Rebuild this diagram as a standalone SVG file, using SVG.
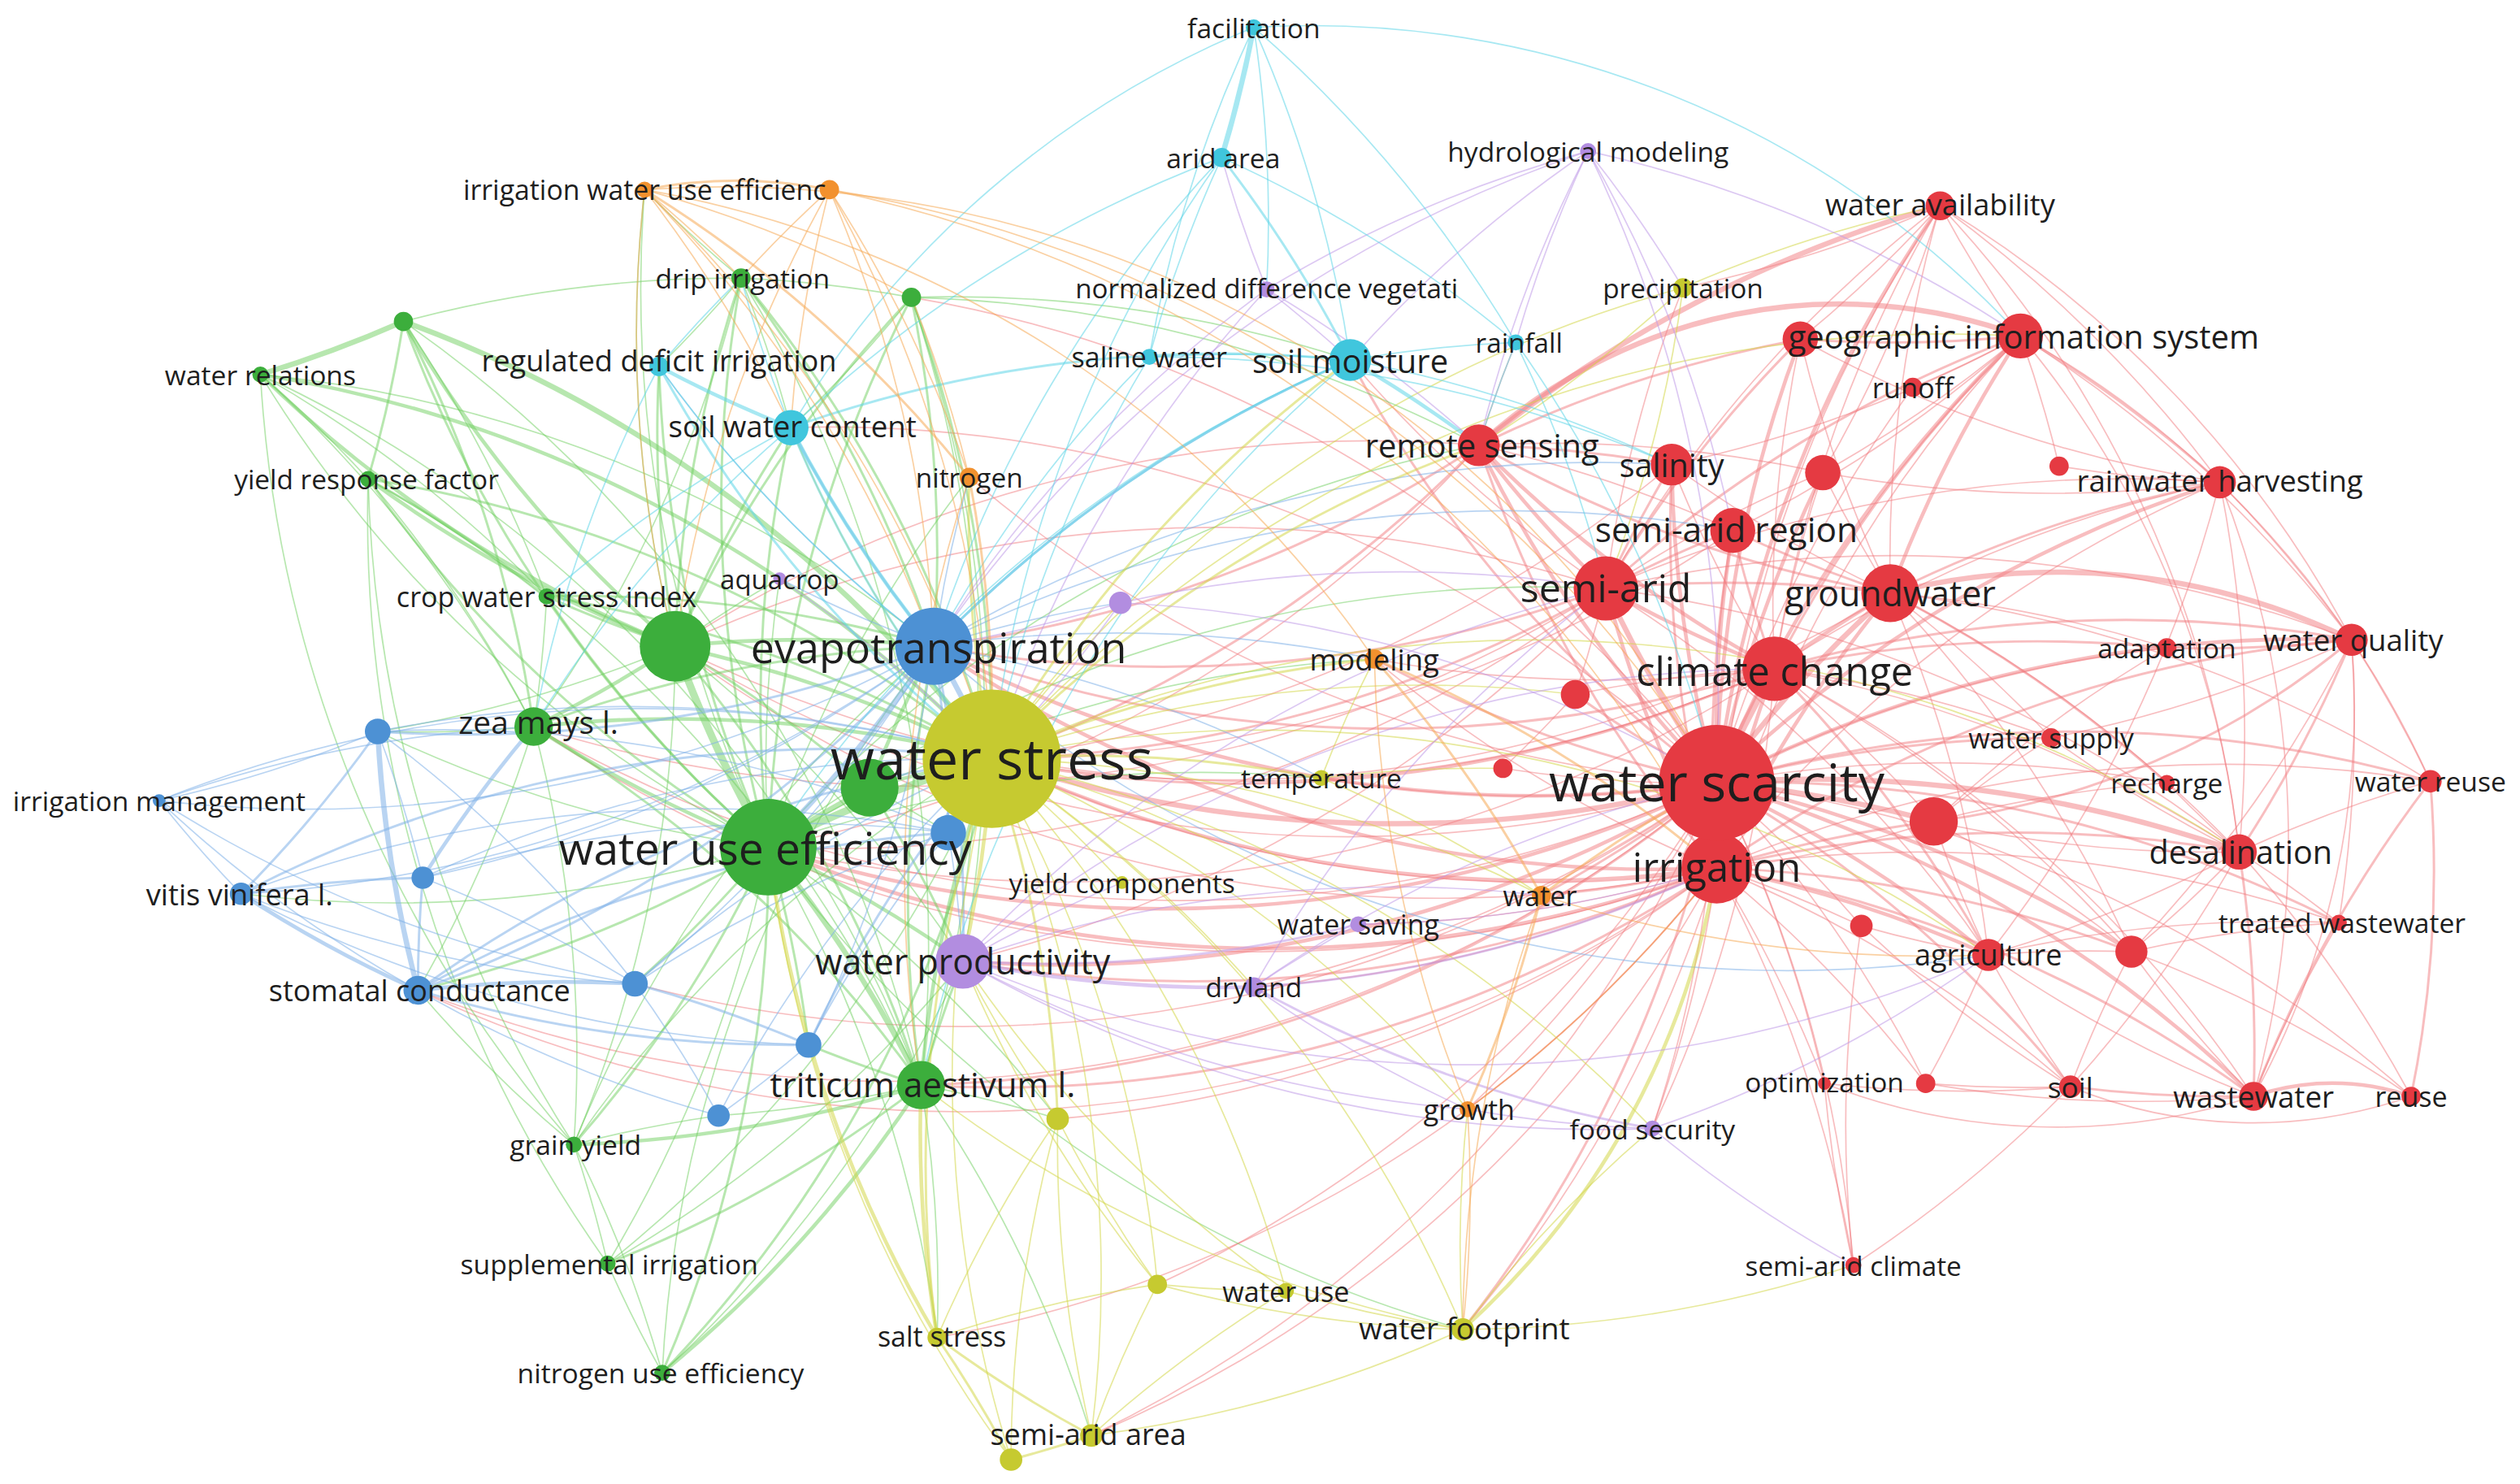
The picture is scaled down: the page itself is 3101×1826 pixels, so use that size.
<svg xmlns="http://www.w3.org/2000/svg" width="3101" height="1826" viewBox="0 0 3101 1826">
<style>
.e path{fill:none;stroke-linecap:round}
.R{stroke:#f27c80;stroke-opacity:.5}
.G{stroke:#6fcf5f;stroke-opacity:.5}
.B{stroke:#7fb0e8;stroke-opacity:.55}
.Y{stroke:#d3d74a;stroke-opacity:.55}
.P{stroke:#bf9be8;stroke-opacity:.55}
.C{stroke:#5fd6e8;stroke-opacity:.55}
.O{stroke:#f5a956;stroke-opacity:.55}
.w1{stroke-width:.85}.w2{stroke-width:1.5}.w3{stroke-width:2.3}.w4{stroke-width:3.3}.w5{stroke-width:4.6}
.nr{fill:#e53a42}.ng{fill:#3cae3c}.nb{fill:#4d91d4}.ny{fill:#c6ca30}.np{fill:#b28de0}.nc{fill:#40c6dd}.no{fill:#f2912e}
text{font-family:"Open Sans","Noto Sans","Liberation Sans",sans-serif;fill:#1e1e1e;text-anchor:middle;dominant-baseline:central}
</style>
<rect width="3101" height="1826" fill="#ffffff"/>
<g transform="scale(1.978)">
<g id="connectors" class="e">
<g class="R">
<path class="w5" d="M1068 487A800 800 0 0 1 1068 540"/>
<path class="w5" d="M1068 487A800 800 0 0 1 1104 416"/>
<path class="w4" d="M1068 487A800 800 0 0 1 999 366"/>
<path class="w4" d="M1068 487A800 800 0 0 1 1176 369"/>
<path class="w3" d="M1068 487A800 800 0 0 1 1078 330"/>
<path class="w3" d="M1068 487A800 800 0 0 1 920 277"/>
<path class="w3" d="M1068 487A800 800 0 0 1 1040 289"/>
<path class="w3" d="M1068 487A800 800 0 0 1 1257 209"/>
<path class="w3" d="M1068 487A800 800 0 0 1 1120 211"/>
<path class="w3" d="M1068 487A800 800 0 0 1 1207 128"/>
<path class="w1" d="M1068 487A800 800 0 0 1 1190 241"/>
<path class="w3" d="M1068 487A800 800 0 0 1 1381 300"/>
<path class="w3" d="M1068 487A800 800 0 0 1 1134 294"/>
<path class="w3" d="M1068 487A800 800 0 0 1 1463 398"/>
<path class="w1" d="M1068 487A800 800 0 0 1 1348 403"/>
<path class="w2" d="M1068 487A800 800 0 0 1 1276 459"/>
<path class="w1" d="M1068 487A800 800 0 0 1 1348 487"/>
<path class="w2" d="M1068 487A800 800 0 0 1 1512 486"/>
<path class="w4" d="M1068 487A800 800 0 0 1 1393 530"/>
<path class="w2" d="M1068 487A800 800 0 0 1 1455 574"/>
<path class="w3" d="M1068 487A800 800 0 0 1 1237 594"/>
<path class="w3" d="M1068 487A800 800 0 0 1 1326 592"/>
<path class="w4" d="M1068 487A800 800 0 0 1 1203 511"/>
<path class="w1" d="M1068 487A800 800 0 0 1 1158 576"/>
<path class="w2" d="M1068 487A800 800 0 0 1 980 432"/>
<path class="w1" d="M1068 487A800 800 0 0 1 935 478"/>
<path class="w1" d="M1068 487A800 800 0 0 1 1135 674"/>
<path class="w1" d="M1068 487A800 800 0 0 1 1198 674"/>
<path class="w2" d="M1068 487A800 800 0 0 1 1288 676"/>
<path class="w3" d="M1068 487A800 800 0 0 1 1402 682"/>
<path class="w1" d="M1068 487A800 800 0 0 1 1500 682"/>
<path class="w1" d="M1068 487A800 800 0 0 1 1153 787"/>
<path class="w4" d="M1068 487A800 800 0 0 1 617 472"/>
<path class="w3" d="M1068 487A800 800 0 0 1 478 527"/>
<path class="w3" d="M1068 487A800 800 0 0 1 581 402"/>
<path class="w3" d="M1068 487A800 800 0 0 1 599 598"/>
<path class="w2" d="M1068 487A800 800 0 0 1 855 410"/>
<path class="w2" d="M1068 487A800 800 0 0 1 959 557"/>
<path class="w1" d="M1068 487A800 800 0 0 1 1028 702"/>
<path class="w1" d="M1068 487A800 800 0 0 1 913 690"/>
<path class="w2" d="M1068 487A800 800 0 0 1 910 827"/>
<path class="w1" d="M1068 487A800 800 0 0 1 822 484"/>
<path class="w1" d="M1068 487A800 800 0 0 1 603 297"/>
<path class="w2" d="M1068 487A800 800 0 0 1 573 675"/>
<path class="w1" d="M1068 487A800 800 0 0 1 420 402"/>
<path class="w1" d="M1068 487A800 800 0 0 1 332 452"/>
<path class="w2" d="M1068 487A800 800 0 0 1 840 224"/>
<path class="w1" d="M1068 487A800 800 0 0 1 780 614"/>
<path class="w1" d="M1068 487A800 800 0 0 1 260 616"/>
<path class="w1" d="M1068 487A800 800 0 0 1 395 612"/>
<path class="w1" d="M1068 487A800 800 0 0 0 492 266"/>
<path class="w1" d="M1068 487A800 800 0 0 0 567 185"/>
<path class="w1" d="M1068 487A800 800 0 0 1 720 799"/>
<path class="w1" d="M1068 487A800 800 0 0 1 679 893"/>
<path class="w3" d="M1068 540A800 800 0 0 1 1104 416"/>
<path class="w3" d="M1068 540A800 800 0 0 1 999 366"/>
<path class="w3" d="M1068 540A800 800 0 0 1 1176 369"/>
<path class="w2" d="M1068 540A800 800 0 0 1 1078 330"/>
<path class="w2" d="M1068 540A800 800 0 0 1 920 277"/>
<path class="w2" d="M1068 540A800 800 0 0 1 1040 289"/>
<path class="w1" d="M1068 540A800 800 0 0 1 1257 209"/>
<path class="w1" d="M1068 540A800 800 0 0 1 1207 128"/>
<path class="w1" d="M1068 540A800 800 0 0 1 1381 300"/>
<path class="w2" d="M1068 540A800 800 0 0 1 1463 398"/>
<path class="w2" d="M1068 540A800 800 0 0 1 1393 530"/>
<path class="w3" d="M1068 540A800 800 0 0 1 1237 594"/>
<path class="w2" d="M1068 540A800 800 0 0 1 1326 592"/>
<path class="w2" d="M1068 540A800 800 0 0 1 1203 511"/>
<path class="w2" d="M1068 540A800 800 0 0 1 1402 682"/>
<path class="w1" d="M1068 540A800 800 0 0 1 1288 676"/>
<path class="w1" d="M1068 540A800 800 0 0 1 1455 574"/>
<path class="w1" d="M1068 540A800 800 0 0 1 1512 486"/>
<path class="w1" d="M1068 540A800 800 0 0 1 1135 674"/>
<path class="w1" d="M1068 540A800 800 0 0 1 1153 787"/>
<path class="w3" d="M1068 540A800 800 0 0 1 617 472"/>
<path class="w3" d="M1068 540A800 800 0 0 1 478 527"/>
<path class="w3" d="M1068 540A800 800 0 0 1 581 402"/>
<path class="w2" d="M1068 540A800 800 0 0 1 599 598"/>
<path class="w2" d="M1068 540A800 800 0 0 1 959 557"/>
<path class="w1" d="M1068 540A800 800 0 0 1 1028 702"/>
<path class="w1" d="M1068 540A800 800 0 0 1 780 614"/>
<path class="w2" d="M1068 540A800 800 0 0 1 573 675"/>
<path class="w1" d="M1068 540A800 800 0 0 1 910 827"/>
<path class="w1" d="M1068 540A800 800 0 0 1 913 690"/>
<path class="w1" d="M1068 540A800 800 0 0 1 1158 576"/>
<path class="w1" d="M1068 540A800 800 0 0 1 1198 674"/>
<path class="w1" d="M1068 540A800 800 0 0 1 420 402"/>
<path class="w1" d="M1068 540A800 800 0 0 1 332 452"/>
<path class="w1" d="M1068 540A800 800 0 0 1 845 575"/>
<path class="w1" d="M1068 540A800 800 0 0 1 855 410"/>
<path class="w1" d="M1068 540A800 800 0 0 1 583 832"/>
<path class="w1" d="M1068 540A800 800 0 0 1 658 696"/>
<path class="w1" d="M1068 540A800 800 0 0 1 679 893"/>
<path class="w1" d="M1068 540A800 800 0 0 1 260 616"/>
<path class="w3" d="M1104 416A800 800 0 0 1 999 366"/>
<path class="w3" d="M1104 416A800 800 0 0 1 1176 369"/>
<path class="w2" d="M1104 416A800 800 0 0 1 1078 330"/>
<path class="w3" d="M1104 416A800 800 0 0 1 920 277"/>
<path class="w1" d="M1104 416A800 800 0 0 1 1040 289"/>
<path class="w2" d="M1104 416A800 800 0 0 1 1257 209"/>
<path class="w1" d="M1104 416A800 800 0 0 1 1207 128"/>
<path class="w1" d="M1104 416A800 800 0 0 1 1381 300"/>
<path class="w2" d="M1104 416A800 800 0 0 1 1463 398"/>
<path class="w2" d="M1104 416A800 800 0 0 1 1348 403"/>
<path class="w1" d="M1104 416A800 800 0 0 1 1276 459"/>
<path class="w1" d="M1104 416A800 800 0 0 1 1393 530"/>
<path class="w2" d="M1104 416A800 800 0 0 1 1237 594"/>
<path class="w1" d="M1104 416A800 800 0 0 1 1326 592"/>
<path class="w1" d="M1104 416A800 800 0 0 1 1203 511"/>
<path class="w2" d="M1104 416A800 800 0 0 1 617 472"/>
<path class="w2" d="M1104 416A800 800 0 0 1 581 402"/>
<path class="w1" d="M1104 416A800 800 0 0 1 1028 702"/>
<path class="w1" d="M1104 416A800 800 0 0 1 855 410"/>
<path class="w1" d="M1104 416A800 800 0 0 1 1134 294"/>
<path class="w1" d="M1104 416A800 800 0 0 1 1120 211"/>
<path class="w1" d="M1104 416A800 800 0 0 1 1402 682"/>
<path class="w1" d="M1104 416A800 800 0 0 1 822 484"/>
<path class="w1" d="M1104 416A800 800 0 0 1 478 527"/>
<path class="w1" d="M1104 416A800 800 0 0 1 420 402"/>
<path class="w2" d="M999 366A800 800 0 0 1 1176 369"/>
<path class="w2" d="M999 366A800 800 0 0 1 1078 330"/>
<path class="w3" d="M999 366A800 800 0 0 1 920 277"/>
<path class="w2" d="M999 366A800 800 0 0 1 1040 289"/>
<path class="w2" d="M999 366A800 800 0 0 1 1257 209"/>
<path class="w2" d="M999 366A800 800 0 0 1 1120 211"/>
<path class="w1" d="M999 366A800 800 0 0 1 1381 300"/>
<path class="w1" d="M999 366A800 800 0 0 1 1463 398"/>
<path class="w1" d="M999 366A800 800 0 0 1 1393 530"/>
<path class="w1" d="M999 366A800 800 0 0 1 1237 594"/>
<path class="w2" d="M999 366A800 800 0 0 1 617 472"/>
<path class="w2" d="M999 366A800 800 0 0 1 581 402"/>
<path class="w1" d="M999 366A800 800 0 0 1 478 527"/>
<path class="w1" d="M999 366A800 800 0 0 1 840 224"/>
<path class="w1" d="M999 366A800 800 0 0 1 1134 294"/>
<path class="w1" d="M999 366A800 800 0 0 1 980 432"/>
<path class="w1" d="M999 366A800 800 0 0 1 599 598"/>
<path class="w1" d="M999 366A800 800 0 0 1 1207 128"/>
<path class="w1" d="M999 366A800 800 0 0 1 1047 179"/>
<path class="w1" d="M999 366A800 800 0 0 0 420 402"/>
<path class="w1" d="M999 366A800 800 0 0 1 332 452"/>
<path class="w2" d="M1176 369A800 800 0 0 1 1078 330"/>
<path class="w2" d="M1176 369A800 800 0 0 1 920 277"/>
<path class="w1" d="M1176 369A800 800 0 0 1 1040 289"/>
<path class="w3" d="M1176 369A800 800 0 0 1 1257 209"/>
<path class="w1" d="M1176 369A800 800 0 0 1 1120 211"/>
<path class="w2" d="M1176 369A800 800 0 0 1 1381 300"/>
<path class="w4" d="M1176 369A420 420 0 0 1 1463 398"/>
<path class="w2" d="M1176 369A800 800 0 0 1 1348 487"/>
<path class="w1" d="M1176 369A800 800 0 0 1 1393 530"/>
<path class="w1" d="M1176 369A800 800 0 0 1 1237 594"/>
<path class="w1" d="M1176 369A800 800 0 0 1 1207 128"/>
<path class="w1" d="M1176 369A800 800 0 0 1 1134 294"/>
<path class="w1" d="M1176 369A800 800 0 0 1 1276 459"/>
<path class="w1" d="M1176 369A800 800 0 0 1 1348 403"/>
<path class="w1" d="M1176 369A800 800 0 0 1 1326 592"/>
<path class="w1" d="M1176 369A800 800 0 0 1 1512 486"/>
<path class="w1" d="M1176 369A800 800 0 0 1 617 472"/>
<path class="w4" d="M920 277A330 330 0 0 1 1257 209"/>
<path class="w2" d="M920 277A800 800 0 0 1 1040 289"/>
<path class="w2" d="M920 277A800 800 0 0 1 1120 211"/>
<path class="w2" d="M920 277A800 800 0 0 1 581 402"/>
<path class="w4" d="M920 277A800 800 0 0 1 1207 128"/>
<path class="w1" d="M920 277A800 800 0 0 1 943 213"/>
<path class="w1" d="M920 277A800 800 0 0 1 1078 330"/>
<path class="w1" d="M920 277A800 800 0 0 1 1134 294"/>
<path class="w2" d="M920 277A800 800 0 0 1 617 472"/>
<path class="w1" d="M920 277A800 800 0 0 1 478 527"/>
<path class="w1" d="M920 277A800 800 0 0 0 420 402"/>
<path class="w1" d="M1040 289A800 800 0 0 1 617 472"/>
<path class="w1" d="M1078 330A800 800 0 0 1 617 472"/>
<path class="w1" d="M1257 209A800 800 0 0 1 1207 128"/>
<path class="w2" d="M1257 209A800 800 0 0 1 1120 211"/>
<path class="w1" d="M1257 209A800 800 0 0 1 1190 241"/>
<path class="w2" d="M1257 209A800 800 0 0 1 1381 300"/>
<path class="w1" d="M1257 209A800 800 0 0 1 1134 294"/>
<path class="w1" d="M1257 209A800 800 0 0 1 1281 290"/>
<path class="w1" d="M1257 209A800 800 0 0 1 1463 398"/>
<path class="w1" d="M1257 209A800 800 0 0 1 1040 289"/>
<path class="w1" d="M1257 209A600 600 0 0 1 1393 530"/>
<path class="w1" d="M1257 209A600 600 0 0 1 1512 486"/>
<path class="w1" d="M1257 209A800 800 0 0 1 1078 330"/>
<path class="w1" d="M1207 128A800 800 0 0 1 1381 300"/>
<path class="w1" d="M1207 128A800 800 0 0 1 1120 211"/>
<path class="w1" d="M1207 128A700 700 0 0 1 1463 398"/>
<path class="w1" d="M1207 128A700 700 0 0 1 1393 530"/>
<path class="w1" d="M1207 128A800 800 0 0 1 1134 294"/>
<path class="w1" d="M1207 128A800 800 0 0 1 1047 179"/>
<path class="w1" d="M1381 300A800 800 0 0 1 1463 398"/>
<path class="w1" d="M1381 300A800 800 0 0 1 1281 290"/>
<path class="w1" d="M1381 300A800 800 0 0 1 1393 530"/>
<path class="w1" d="M1381 300A800 800 0 0 1 1134 294"/>
<path class="w1" d="M1381 300A600 600 0 0 1 1402 682"/>
<path class="w1" d="M1381 300A800 800 0 0 1 1237 594"/>
<path class="w1" d="M1381 300A800 800 0 0 1 1120 211"/>
<path class="w2" d="M1463 398A800 800 0 0 1 1348 403"/>
<path class="w1" d="M1463 398A800 800 0 0 1 1512 486"/>
<path class="w2" d="M1463 398A800 800 0 0 1 1393 530"/>
<path class="w1" d="M1463 398A500 500 0 0 1 1402 682"/>
<path class="w1" d="M1463 398A800 800 0 0 1 1455 574"/>
<path class="w2" d="M1463 398A500 500 0 0 1 1203 511"/>
<path class="w1" d="M1463 398A800 800 0 0 1 1276 459"/>
<path class="w1" d="M1463 398A800 800 0 0 1 1326 592"/>
<path class="w2" d="M1393 530A800 800 0 0 1 1402 682"/>
<path class="w1" d="M1393 530A800 800 0 0 1 1455 574"/>
<path class="w1" d="M1393 530A800 800 0 0 1 1512 486"/>
<path class="w1" d="M1393 530A800 800 0 0 1 1500 682"/>
<path class="w1" d="M1393 530A800 800 0 0 1 1288 676"/>
<path class="w1" d="M1393 530A800 800 0 0 1 1237 594"/>
<path class="w1" d="M1393 530A800 800 0 0 1 1326 592"/>
<path class="w1" d="M1393 530A800 800 0 0 1 1348 487"/>
<path class="w1" d="M1393 530A800 800 0 0 1 1203 511"/>
<path class="w1" d="M1393 530A800 800 0 0 1 1276 459"/>
<path class="w3" d="M1402 682A150 150 0 0 1 1500 682"/>
<path class="w2" d="M1402 682A800 800 0 0 1 1288 676"/>
<path class="w2" d="M1402 682A800 800 0 0 1 1512 486"/>
<path class="w1" d="M1402 682A800 800 0 0 1 1455 574"/>
<path class="w1" d="M1402 682A800 800 0 0 1 1237 594"/>
<path class="w1" d="M1402 682A800 800 0 0 1 1326 592"/>
<path class="w1" d="M1402 682A400 400 0 0 1 1135 674"/>
<path class="w1" d="M1402 682A800 800 0 0 1 1198 674"/>
<path class="w1" d="M1288 676A800 800 0 0 1 1237 594"/>
<path class="w1" d="M1288 676A800 800 0 0 1 1198 674"/>
<path class="w1" d="M1288 676A800 800 0 0 1 1135 674"/>
<path class="w1" d="M1288 676A800 800 0 0 1 1326 592"/>
<path class="w1" d="M1288 676A800 800 0 0 1 1153 787"/>
<path class="w1" d="M1288 676A800 800 0 0 1 1158 576"/>
<path class="w1" d="M1288 676A300 300 0 0 0 1500 682"/>
<path class="w1" d="M1237 594A800 800 0 0 1 1326 592"/>
<path class="w1" d="M1237 594A800 800 0 0 1 1158 576"/>
<path class="w1" d="M1237 594A800 800 0 0 1 1203 511"/>
<path class="w1" d="M1237 594A800 800 0 0 1 1198 674"/>
<path class="w1" d="M1237 594A800 800 0 0 1 1455 574"/>
<path class="w1" d="M1203 511A800 800 0 0 1 1326 592"/>
<path class="w1" d="M1203 511A800 800 0 0 1 1276 459"/>
<path class="w1" d="M1203 511A800 800 0 0 1 1348 487"/>
<path class="w1" d="M1203 511A800 800 0 0 1 1348 403"/>
<path class="w1" d="M1203 511A800 800 0 0 1 617 472"/>
<path class="w1" d="M1326 592A800 800 0 0 1 1455 574"/>
<path class="w1" d="M1326 592A800 800 0 0 1 1500 682"/>
<path class="w1" d="M1153 787A800 800 0 0 1 1135 674"/>
<path class="w1" d="M1153 787A800 800 0 0 1 1158 576"/>
<path class="w1" d="M980 432A800 800 0 0 1 935 478"/>
<path class="w1" d="M980 432A800 800 0 0 1 1104 416"/>
<path class="w2" d="M1512 486A700 700 0 0 1 1500 682"/>
</g>
<g class="G">
<path class="w5" d="M478 527A800 800 0 0 1 420 402"/>
<path class="w4" d="M478 527A800 800 0 0 1 541 490"/>
<path class="w4" d="M478 527A800 800 0 0 1 573 675"/>
<path class="w3" d="M478 527A800 800 0 0 1 332 452"/>
<path class="w2" d="M478 527A800 800 0 0 1 340 371"/>
<path class="w2" d="M478 527A800 800 0 0 1 229 298"/>
<path class="w1" d="M478 527A800 800 0 0 1 162 233"/>
<path class="w2" d="M478 527A800 800 0 0 1 251 200"/>
<path class="w2" d="M478 527A800 800 0 0 1 461 173"/>
<path class="w2" d="M478 527A800 800 0 0 1 567 185"/>
<path class="w2" d="M478 527A800 800 0 0 1 357 712"/>
<path class="w1" d="M478 527A800 800 0 0 1 378 786"/>
<path class="w2" d="M478 527A800 800 0 0 1 412 854"/>
<path class="w2" d="M478 527A800 800 0 0 1 410 228"/>
<path class="w2" d="M478 527A800 800 0 0 1 492 266"/>
<path class="w3" d="M478 527A800 800 0 0 1 599 598"/>
<path class="w2" d="M478 527A800 800 0 0 1 260 616"/>
<path class="w2" d="M478 527A800 800 0 0 1 395 612"/>
<path class="w2" d="M478 527A800 800 0 0 1 503 650"/>
<path class="w1" d="M478 527A800 800 0 0 1 150 556"/>
<path class="w1" d="M478 527A800 800 0 0 1 401 118"/>
<path class="w1" d="M478 527A800 800 0 0 1 603 297"/>
<path class="w5" d="M478 527A800 800 0 0 1 617 472"/>
<path class="w1" d="M478 527A800 800 0 0 1 658 696"/>
<path class="w1" d="M478 527A800 800 0 0 1 583 832"/>
<path class="w1" d="M478 527A800 800 0 0 1 235 455"/>
<path class="w1" d="M478 527A800 800 0 0 1 485 360"/>
<path class="w1" d="M478 527A800 800 0 0 1 855 410"/>
<path class="w1" d="M478 527A800 800 0 0 1 822 484"/>
<path class="w1" d="M478 527A800 800 0 0 1 920 277"/>
<path class="w1" d="M478 527A800 800 0 0 1 999 366"/>
<path class="w1" d="M478 527A800 800 0 0 0 910 827"/>
<path class="w3" d="M420 402A800 800 0 0 1 332 452"/>
<path class="w2" d="M420 402A800 800 0 0 1 340 371"/>
<path class="w3" d="M420 402A800 800 0 0 1 229 298"/>
<path class="w3" d="M420 402A800 800 0 0 1 162 233"/>
<path class="w3" d="M420 402A800 800 0 0 1 251 200"/>
<path class="w2" d="M420 402A800 800 0 0 1 461 173"/>
<path class="w2" d="M420 402A800 800 0 0 1 567 185"/>
<path class="w3" d="M420 402A800 800 0 0 1 581 402"/>
<path class="w3" d="M420 402A800 800 0 0 1 617 472"/>
<path class="w2" d="M420 402A800 800 0 0 1 573 675"/>
<path class="w2" d="M420 402A800 800 0 0 1 492 266"/>
<path class="w2" d="M420 402A800 800 0 0 1 410 228"/>
<path class="w2" d="M420 402A800 800 0 0 1 541 490"/>
<path class="w1" d="M420 402A800 800 0 0 1 599 598"/>
<path class="w1" d="M420 402A800 800 0 0 1 357 712"/>
<path class="w1" d="M420 402A800 800 0 0 1 235 455"/>
<path class="w1" d="M420 402A800 800 0 0 1 401 118"/>
<path class="w1" d="M420 402A800 800 0 0 1 485 360"/>
<path class="w4" d="M251 200A800 800 0 0 1 162 233"/>
<path class="w2" d="M251 200A800 800 0 0 1 229 298"/>
<path class="w2" d="M251 200A800 800 0 0 1 332 452"/>
<path class="w1" d="M251 200A800 800 0 0 1 573 675"/>
<path class="w1" d="M251 200A800 800 0 0 1 340 371"/>
<path class="w1" d="M251 200A800 800 0 0 1 461 173"/>
<path class="w4" d="M251 200A800 800 0 0 1 617 472"/>
<path class="w1" d="M162 233A800 800 0 0 1 229 298"/>
<path class="w1" d="M162 233A800 800 0 0 1 332 452"/>
<path class="w1" d="M162 233A800 800 0 0 1 340 371"/>
<path class="w3" d="M162 233A800 800 0 0 1 617 472"/>
<path class="w1" d="M162 233A800 800 0 0 1 581 402"/>
<path class="w1" d="M162 233A800 800 0 0 0 357 712"/>
<path class="w1" d="M162 233A800 800 0 0 1 573 675"/>
<path class="w1" d="M229 298A800 800 0 0 1 332 452"/>
<path class="w2" d="M229 298A800 800 0 0 1 340 371"/>
<path class="w1" d="M229 298A800 800 0 0 1 573 675"/>
<path class="w2" d="M229 298A800 800 0 0 1 617 472"/>
<path class="w1" d="M229 298A800 800 0 0 0 357 712"/>
<path class="w1" d="M229 298A800 800 0 0 0 378 786"/>
<path class="w1" d="M340 371A800 800 0 0 1 332 452"/>
<path class="w2" d="M340 371A800 800 0 0 1 581 402"/>
<path class="w2" d="M340 371A800 800 0 0 1 617 472"/>
<path class="w1" d="M461 173A800 800 0 0 1 567 185"/>
<path class="w1" d="M461 173A800 800 0 0 1 401 118"/>
<path class="w1" d="M461 173A800 800 0 0 1 492 266"/>
<path class="w2" d="M461 173A800 800 0 0 1 617 472"/>
<path class="w2" d="M461 173A800 800 0 0 1 581 402"/>
<path class="w1" d="M461 173A800 800 0 0 1 573 675"/>
<path class="w1" d="M461 173A800 800 0 0 1 410 228"/>
<path class="w1" d="M461 173A800 800 0 0 1 332 452"/>
<path class="w2" d="M567 185A800 800 0 0 1 617 472"/>
<path class="w2" d="M567 185A800 800 0 0 1 581 402"/>
<path class="w1" d="M567 185A800 800 0 0 1 492 266"/>
<path class="w1" d="M567 185A800 800 0 0 1 573 675"/>
<path class="w1" d="M567 185A800 800 0 0 1 599 598"/>
<path class="w1" d="M567 185A800 800 0 0 1 840 224"/>
<path class="w1" d="M567 185A800 800 0 0 1 920 277"/>
<path class="w2" d="M332 452A800 800 0 0 1 581 402"/>
<path class="w3" d="M332 452A800 800 0 0 1 617 472"/>
<path class="w2" d="M332 452A800 800 0 0 1 573 675"/>
<path class="w1" d="M332 452A800 800 0 0 1 357 712"/>
<path class="w1" d="M332 452A800 800 0 0 1 235 455"/>
<path class="w1" d="M332 452A800 800 0 0 1 260 616"/>
<path class="w3" d="M573 675A800 800 0 0 1 357 712"/>
<path class="w2" d="M573 675A800 800 0 0 1 378 786"/>
<path class="w3" d="M573 675A800 800 0 0 1 412 854"/>
<path class="w3" d="M573 675A800 800 0 0 1 617 472"/>
<path class="w2" d="M573 675A800 800 0 0 1 599 598"/>
<path class="w2" d="M573 675A800 800 0 0 1 503 650"/>
<path class="w1" d="M573 675A800 800 0 0 1 447 694"/>
<path class="w1" d="M573 675A800 800 0 0 1 658 696"/>
<path class="w2" d="M573 675A800 800 0 0 1 581 402"/>
<path class="w1" d="M573 675A800 800 0 0 1 583 832"/>
<path class="w1" d="M573 675A800 800 0 0 1 679 893"/>
<path class="w1" d="M357 712A800 800 0 0 1 378 786"/>
<path class="w1" d="M357 712A800 800 0 0 1 412 854"/>
<path class="w1" d="M357 712A800 800 0 0 1 447 694"/>
<path class="w1" d="M357 712A800 800 0 0 1 617 472"/>
<path class="w1" d="M357 712A800 800 0 0 1 581 402"/>
<path class="w1" d="M357 712A800 800 0 0 1 260 616"/>
<path class="w1" d="M412 854A800 800 0 0 1 378 786"/>
<path class="w2" d="M412 854A800 800 0 0 0 617 472"/>
<path class="w1" d="M412 854A800 800 0 0 1 581 402"/>
<path class="w1" d="M412 854A800 800 0 0 0 599 598"/>
<path class="w1" d="M378 786A800 800 0 0 0 617 472"/>
<path class="w1" d="M378 786A800 800 0 0 0 599 598"/>
<path class="w3" d="M541 490A800 800 0 0 1 617 472"/>
<path class="w3" d="M541 490A800 800 0 0 1 581 402"/>
<path class="w2" d="M541 490A800 800 0 0 1 599 598"/>
<path class="w1" d="M541 490A800 800 0 0 1 590 518"/>
</g>
<g class="B">
<path class="w4" d="M581 402A800 800 0 0 1 617 472"/>
<path class="w4" d="M581 402A800 800 0 0 1 478 527"/>
<path class="w2" d="M581 402A800 800 0 0 1 590 518"/>
<path class="w2" d="M581 402A800 800 0 0 1 260 616"/>
<path class="w1" d="M581 402A800 800 0 0 1 99 498"/>
<path class="w1" d="M581 402A800 800 0 0 1 150 556"/>
<path class="w2" d="M581 402A800 800 0 0 1 235 455"/>
<path class="w2" d="M581 402A800 800 0 0 1 492 266"/>
<path class="w2" d="M581 402A800 800 0 0 1 840 224"/>
<path class="w1" d="M581 402A800 800 0 0 1 395 612"/>
<path class="w1" d="M581 402A800 800 0 0 1 503 650"/>
<path class="w2" d="M581 402A800 800 0 0 1 599 598"/>
<path class="w1" d="M581 402A800 800 0 0 1 410 228"/>
<path class="w1" d="M581 402A800 800 0 0 1 603 297"/>
<path class="w1" d="M581 402A800 800 0 0 1 697 375"/>
<path class="w1" d="M581 402A800 800 0 0 1 822 484"/>
<path class="w1" d="M581 402A800 800 0 0 1 855 410"/>
<path class="w1" d="M581 402A800 800 0 0 1 485 360"/>
<path class="w1" d="M581 402A800 800 0 0 1 263 546"/>
<path class="w1" d="M581 402A800 800 0 0 1 1040 289"/>
<path class="w1" d="M581 402A800 800 0 0 1 1078 330"/>
<path class="w1" d="M581 402A800 800 0 0 0 1237 594"/>
<path class="w4" d="M235 455A800 800 0 0 0 260 616"/>
<path class="w2" d="M235 455A800 800 0 0 1 150 556"/>
<path class="w1" d="M235 455A800 800 0 0 1 99 498"/>
<path class="w1" d="M235 455A800 800 0 0 1 263 546"/>
<path class="w1" d="M235 455A800 800 0 0 1 395 612"/>
<path class="w1" d="M235 455A800 800 0 0 1 617 472"/>
<path class="w1" d="M235 455A800 800 0 0 1 590 518"/>
<path class="w3" d="M150 556A800 800 0 0 0 260 616"/>
<path class="w1" d="M150 556A800 800 0 0 1 99 498"/>
<path class="w2" d="M150 556A800 800 0 0 1 263 546"/>
<path class="w1" d="M150 556A800 800 0 0 0 395 612"/>
<path class="w2" d="M150 556A800 800 0 0 1 617 472"/>
<path class="w1" d="M150 556A800 800 0 0 1 590 518"/>
<path class="w1" d="M150 556A800 800 0 0 0 503 650"/>
<path class="w2" d="M260 616A800 800 0 0 1 263 546"/>
<path class="w3" d="M260 616A800 800 0 0 1 395 612"/>
<path class="w2" d="M260 616A800 800 0 0 0 503 650"/>
<path class="w1" d="M260 616A800 800 0 0 0 447 694"/>
<path class="w2" d="M260 616A800 800 0 0 1 617 472"/>
<path class="w2" d="M260 616A800 800 0 0 1 590 518"/>
<path class="w1" d="M263 546A800 800 0 0 1 395 612"/>
<path class="w1" d="M263 546A800 800 0 0 1 617 472"/>
<path class="w1" d="M263 546A800 800 0 0 1 590 518"/>
<path class="w3" d="M263 546A800 800 0 0 1 332 452"/>
<path class="w2" d="M395 612A800 800 0 0 1 503 650"/>
<path class="w1" d="M395 612A800 800 0 0 1 447 694"/>
<path class="w1" d="M395 612A800 800 0 0 1 617 472"/>
<path class="w1" d="M395 612A800 800 0 0 1 590 518"/>
<path class="w1" d="M503 650A800 800 0 0 1 447 694"/>
<path class="w2" d="M503 650A800 800 0 0 1 617 472"/>
<path class="w1" d="M503 650A800 800 0 0 1 590 518"/>
<path class="w1" d="M447 694A800 800 0 0 1 617 472"/>
<path class="w1" d="M99 498A800 800 0 0 0 260 616"/>
<path class="w1" d="M99 498A800 800 0 0 1 332 452"/>
<path class="w1" d="M99 498A800 800 0 0 0 395 612"/>
<path class="w1" d="M99 498A800 800 0 0 1 617 472"/>
<path class="w2" d="M590 518A800 800 0 0 1 617 472"/>
<path class="w1" d="M590 518A800 800 0 0 1 599 598"/>
</g>
<g class="Y">
<path class="w3" d="M617 472A800 800 0 0 1 599 598"/>
<path class="w2" d="M617 472A800 800 0 0 1 822 484"/>
<path class="w1" d="M617 472A800 800 0 0 1 698 549"/>
<path class="w2" d="M617 472A800 800 0 0 1 658 696"/>
<path class="w1" d="M617 472A800 800 0 0 1 720 799"/>
<path class="w1" d="M617 472A800 800 0 0 1 800 803"/>
<path class="w1" d="M617 472A800 800 0 0 1 910 827"/>
<path class="w2" d="M617 472A800 800 0 0 0 583 832"/>
<path class="w1" d="M617 472A800 800 0 0 1 679 893"/>
<path class="w1" d="M617 472A800 800 0 0 0 629 908"/>
<path class="w1" d="M617 472A800 800 0 0 1 1047 179"/>
<path class="w2" d="M617 472A800 800 0 0 1 855 410"/>
<path class="w2" d="M617 472A800 800 0 0 1 920 277"/>
<path class="w2" d="M617 472A800 800 0 0 1 840 224"/>
<path class="w1" d="M617 472A800 800 0 0 1 492 266"/>
<path class="w2" d="M617 472A800 800 0 0 1 603 297"/>
<path class="w1" d="M617 472A800 800 0 0 1 780 614"/>
<path class="w1" d="M617 472A800 800 0 0 1 845 575"/>
<path class="w1" d="M617 472A800 800 0 0 1 913 690"/>
<path class="w1" d="M617 472A800 800 0 0 1 980 432"/>
<path class="w1" d="M617 472A800 800 0 0 1 697 375"/>
<path class="w1" d="M617 472A800 800 0 0 1 1028 702"/>
<path class="w1" d="M617 472A800 800 0 0 1 959 557"/>
<path class="w1" d="M617 472A800 800 0 0 1 1257 209"/>
<path class="w1" d="M617 472A800 800 0 0 1 1237 594"/>
<path class="w1" d="M617 472A800 800 0 0 1 1393 530"/>
<path class="w2" d="M583 832A800 800 0 0 0 679 893"/>
<path class="w2" d="M583 832A800 800 0 0 1 629 908"/>
<path class="w3" d="M583 832A800 800 0 0 1 478 527"/>
<path class="w3" d="M583 832A800 800 0 0 1 573 675"/>
<path class="w1" d="M583 832A800 800 0 0 1 658 696"/>
<path class="w1" d="M583 832A800 800 0 0 1 720 799"/>
<path class="w2" d="M679 893A800 800 0 0 1 629 908"/>
<path class="w1" d="M679 893A800 800 0 0 1 720 799"/>
<path class="w1" d="M679 893A800 800 0 0 0 910 827"/>
<path class="w1" d="M679 893A800 800 0 0 1 658 696"/>
<path class="w1" d="M679 893A800 800 0 0 1 800 803"/>
<path class="w1" d="M629 908A800 800 0 0 1 658 696"/>
<path class="w1" d="M629 908A800 800 0 0 1 478 527"/>
<path class="w1" d="M720 799A800 800 0 0 0 800 803"/>
<path class="w1" d="M720 799A800 800 0 0 0 910 827"/>
<path class="w1" d="M720 799A800 800 0 0 1 658 696"/>
<path class="w1" d="M720 799A800 800 0 0 1 599 598"/>
<path class="w1" d="M800 803A800 800 0 0 0 910 827"/>
<path class="w1" d="M800 803A800 800 0 0 1 599 598"/>
<path class="w1" d="M910 827A800 800 0 0 0 1153 787"/>
<path class="w1" d="M910 827A800 800 0 0 1 913 690"/>
<path class="w1" d="M910 827A800 800 0 0 1 573 675"/>
<path class="w1" d="M910 827A800 800 0 0 1 1028 702"/>
<path class="w3" d="M910 827A500 500 0 0 0 1068 540"/>
<path class="w1" d="M658 696A800 800 0 0 1 599 598"/>
<path class="w1" d="M822 484A800 800 0 0 1 855 410"/>
<path class="w1" d="M822 484A800 800 0 0 1 959 557"/>
<path class="w1" d="M822 484A800 800 0 0 1 935 478"/>
<path class="w1" d="M1047 179A800 800 0 0 1 920 277"/>
<path class="w1" d="M1047 179A800 800 0 0 1 1207 128"/>
<path class="w1" d="M1047 179A800 800 0 0 1 999 366"/>
</g>
<g class="P">
<path class="w3" d="M599 598A800 800 0 0 0 780 614"/>
<path class="w2" d="M599 598A800 800 0 0 0 845 575"/>
<path class="w1" d="M599 598A800 800 0 0 0 1028 702"/>
<path class="w1" d="M599 598A800 800 0 0 1 698 549"/>
<path class="w1" d="M599 598A800 800 0 0 0 913 690"/>
<path class="w1" d="M599 598A800 800 0 0 1 959 557"/>
<path class="w1" d="M599 598A800 800 0 0 1 1104 416"/>
<path class="w1" d="M599 598A800 800 0 0 1 999 366"/>
<path class="w1" d="M599 598A800 800 0 0 0 1237 594"/>
<path class="w1" d="M780 614A800 800 0 0 1 845 575"/>
<path class="w2" d="M780 614A800 800 0 0 0 1028 702"/>
<path class="w2" d="M780 614A800 800 0 0 0 1068 540"/>
<path class="w1" d="M780 614A800 800 0 0 1 1068 487"/>
<path class="w1" d="M780 614A800 800 0 0 0 913 690"/>
<path class="w1" d="M780 614A800 800 0 0 1 999 366"/>
<path class="w1" d="M697 375A800 800 0 0 1 617 472"/>
<path class="w1" d="M697 375A800 800 0 0 1 581 402"/>
<path class="w1" d="M697 375A800 800 0 0 1 1068 487"/>
<path class="w1" d="M697 375A800 800 0 0 1 999 366"/>
<path class="w1" d="M485 360A800 800 0 0 1 617 472"/>
<path class="w1" d="M788 180A800 800 0 0 1 840 224"/>
<path class="w1" d="M788 180A800 800 0 0 1 920 277"/>
<path class="w1" d="M788 180A800 800 0 0 1 760 98"/>
<path class="w1" d="M788 180A800 800 0 0 0 617 472"/>
<path class="w1" d="M788 180A800 800 0 0 0 581 402"/>
<path class="w1" d="M788 180A800 800 0 0 1 988 94"/>
<path class="w1" d="M988 94A800 800 0 0 0 920 277"/>
<path class="w1" d="M988 94A800 800 0 0 0 840 224"/>
<path class="w1" d="M988 94A800 800 0 0 1 1257 209"/>
<path class="w1" d="M988 94A800 800 0 0 0 943 213"/>
<path class="w1" d="M988 94A800 800 0 0 1 1068 487"/>
<path class="w1" d="M988 94A800 800 0 0 1 1078 330"/>
<path class="w1" d="M988 94A800 800 0 0 1 1047 179"/>
<path class="w1" d="M988 94A800 800 0 0 0 581 402"/>
<path class="w1" d="M1028 702A800 800 0 0 1 913 690"/>
<path class="w1" d="M1028 702A800 800 0 0 0 1237 594"/>
<path class="w1" d="M1028 702A800 800 0 0 0 1153 787"/>
<path class="w1" d="M845 575A800 800 0 0 0 1068 540"/>
</g>
<g class="C">
<path class="w4" d="M780 17A800 800 0 0 1 760 98"/>
<path class="w1" d="M780 17A800 800 0 0 1 840 224"/>
<path class="w1" d="M780 17A800 800 0 0 0 715 222"/>
<path class="w1" d="M780 17A800 800 0 0 1 943 213"/>
<path class="w1" d="M780 17A800 800 0 0 1 788 180"/>
<path class="w1" d="M780 17A600 600 0 0 0 492 266"/>
<path class="w1" d="M780 17A600 600 0 0 1 1257 209"/>
<path class="w2" d="M760 98A800 800 0 0 1 840 224"/>
<path class="w1" d="M760 98A800 800 0 0 0 715 222"/>
<path class="w1" d="M760 98A800 800 0 0 1 943 213"/>
<path class="w1" d="M760 98A800 800 0 0 0 492 266"/>
<path class="w1" d="M760 98A800 800 0 0 0 617 472"/>
<path class="w1" d="M760 98A800 800 0 0 0 581 402"/>
<path class="w3" d="M840 224A800 800 0 0 1 920 277"/>
<path class="w1" d="M840 224A800 800 0 0 1 943 213"/>
<path class="w2" d="M840 224A800 800 0 0 0 581 402"/>
<path class="w2" d="M840 224A800 800 0 0 0 492 266"/>
<path class="w1" d="M840 224A800 800 0 0 0 715 222"/>
<path class="w1" d="M840 224A800 800 0 0 0 478 527"/>
<path class="w1" d="M840 224A800 800 0 0 1 1040 289"/>
<path class="w1" d="M840 224A800 800 0 0 0 573 675"/>
<path class="w3" d="M492 266A800 800 0 0 1 410 228"/>
<path class="w3" d="M492 266A800 800 0 0 0 581 402"/>
<path class="w1" d="M492 266A800 800 0 0 1 461 173"/>
<path class="w2" d="M492 266A800 800 0 0 0 617 472"/>
<path class="w1" d="M492 266A800 800 0 0 0 332 452"/>
<path class="w1" d="M492 266A800 800 0 0 0 340 371"/>
<path class="w1" d="M410 228A800 800 0 0 1 461 173"/>
<path class="w1" d="M410 228A800 800 0 0 0 332 452"/>
<path class="w1" d="M410 228A800 800 0 0 0 581 402"/>
<path class="w2" d="M410 228A800 800 0 0 0 617 472"/>
<path class="w1" d="M715 222A800 800 0 0 0 617 472"/>
<path class="w1" d="M715 222A800 800 0 0 1 1040 289"/>
<path class="w1" d="M715 222A800 800 0 0 0 581 402"/>
<path class="w1" d="M943 213A800 800 0 0 0 920 277"/>
<path class="w1" d="M943 213A800 800 0 0 1 1068 487"/>
<path class="w1" d="M943 213A800 800 0 0 1 999 366"/>
</g>
<g class="O">
<path class="w2" d="M401 118A300 300 0 0 1 516 118"/>
<path class="w1" d="M401 118A800 800 0 0 1 461 173"/>
<path class="w2" d="M401 118A800 800 0 0 1 603 297"/>
<path class="w1" d="M401 118A800 800 0 0 1 617 472"/>
<path class="w1" d="M401 118A800 800 0 0 0 420 402"/>
<path class="w1" d="M401 118A800 800 0 0 1 492 266"/>
<path class="w1" d="M401 118A800 800 0 0 1 581 402"/>
<path class="w1" d="M401 118A800 800 0 0 1 567 185"/>
<path class="w1" d="M401 118A700 700 0 0 1 1068 487"/>
<path class="w1" d="M401 118A700 700 0 0 1 855 410"/>
<path class="w1" d="M516 118A800 800 0 0 0 461 173"/>
<path class="w1" d="M516 118A800 800 0 0 1 603 297"/>
<path class="w1" d="M516 118A800 800 0 0 1 617 472"/>
<path class="w1" d="M516 118A800 800 0 0 1 581 402"/>
<path class="w1" d="M516 118A800 800 0 0 0 492 266"/>
<path class="w1" d="M516 118A800 800 0 0 0 420 402"/>
<path class="w1" d="M516 118A800 800 0 0 1 1068 487"/>
<path class="w1" d="M516 118A800 800 0 0 1 1068 540"/>
<path class="w1" d="M603 297A800 800 0 0 0 573 675"/>
<path class="w1" d="M603 297A800 800 0 0 0 567 185"/>
<path class="w2" d="M603 297A800 800 0 0 1 617 472"/>
<path class="w2" d="M855 410A800 800 0 0 1 1068 540"/>
<path class="w2" d="M855 410A800 800 0 0 1 959 557"/>
<path class="w1" d="M855 410A800 800 0 0 0 913 690"/>
<path class="w2" d="M959 557A800 800 0 0 1 913 690"/>
<path class="w1" d="M959 557A800 800 0 0 0 910 827"/>
<path class="w2" d="M959 557A800 800 0 0 1 1068 487"/>
<path class="w1" d="M959 557A800 800 0 0 0 1237 594"/>
<path class="w1" d="M913 690A800 800 0 0 1 910 827"/>
<path class="w1" d="M913 690A800 800 0 0 0 1068 540"/>
</g>
</g>
<g id="nodes">
<g id="n-r1"><circle class="nr" cx="1120" cy="211" r="11"/></g>
<g id="n-r2"><circle class="nr" cx="1134" cy="294" r="11"/></g>
<g id="n-r3"><circle class="nr" cx="1281" cy="290" r="6"/></g>
<g id="n-r4"><circle class="nr" cx="1326" cy="592" r="10"/></g>
<g id="n-r5"><circle class="nr" cx="1203" cy="511" r="15"/></g>
<g id="n-r6"><circle class="nr" cx="1158" cy="576" r="7"/></g>
<g id="n-r7"><circle class="nr" cx="980" cy="432" r="9"/></g>
<g id="n-r8"><circle class="nr" cx="935" cy="478" r="6"/></g>
<g id="n-r9"><circle class="nr" cx="1198" cy="674" r="6"/></g>
<g id="n-o1"><circle class="no" cx="516" cy="118" r="6"/></g>
<g id="n-y1"><circle class="ny" cx="658" cy="696" r="7"/></g>
<g id="n-y2"><circle class="ny" cx="720" cy="799" r="6"/></g>
<g id="n-y3"><circle class="ny" cx="629" cy="908" r="7"/></g>
<g id="n-p1"><circle class="np" cx="697" cy="375" r="7"/></g>
<g id="n-g1"><circle class="ng" cx="420" cy="402" r="22"/></g>
<g id="n-g2"><circle class="ng" cx="541" cy="490" r="18"/></g>
<g id="n-g3"><circle class="ng" cx="251" cy="200" r="6"/></g>
<g id="n-g4"><circle class="ng" cx="567" cy="185" r="6"/></g>
<g id="n-b1"><circle class="nb" cx="235" cy="455" r="8"/></g>
<g id="n-b2"><circle class="nb" cx="263" cy="546" r="7"/></g>
<g id="n-b3"><circle class="nb" cx="395" cy="612" r="8"/></g>
<g id="n-b4"><circle class="nb" cx="590" cy="518" r="11"/></g>
<g id="n-b5"><circle class="nb" cx="503" cy="650" r="8"/></g>
<g id="n-b6"><circle class="nb" cx="447" cy="694" r="7"/></g>

<g id="n-facilitation"><circle class="nc" cx="780" cy="17" r="5"/><text x="780" y="17" font-size="17">facilitation</text></g>
<g id="n-arid-area"><circle class="nc" cx="760" cy="98" r="6"/><text x="761" y="98" font-size="17">arid area</text></g>
<g id="n-hydrological-modeling"><circle class="np" cx="988" cy="94" r="5"/><text x="988" y="94" font-size="17">hydrological modeling</text></g>
<g id="n-irrigation-water-use-efficiency"><circle class="no" cx="401" cy="118" r="5"/><text x="401" y="118" font-size="17.1">irrigation water use efficienc</text></g>
<g id="n-drip-irrigation"><circle class="ng" cx="461" cy="173" r="6"/><text x="462" y="173" font-size="17">drip irrigation</text></g>
<g id="n-ndvi"><circle class="np" cx="788" cy="180" r="5"/><text x="788" y="179" font-size="16.8">normalized difference vegetati</text></g>
<g id="n-precipitation"><circle class="ny" cx="1047" cy="179" r="6"/><text x="1047" y="179" font-size="16.9">precipitation</text></g>
<g id="n-water-availability"><circle class="nr" cx="1207" cy="128" r="9"/><text x="1207" y="127" font-size="18.3">water availability</text></g>
<g id="n-saline-water"><circle class="nc" cx="715" cy="222" r="5"/><text x="715" y="222" font-size="17.2">saline water</text></g>
<g id="n-rainfall"><circle class="nc" cx="943" cy="213" r="5"/><text x="945" y="213" font-size="16.8">rainfall</text></g>
<g id="n-water-relations"><circle class="ng" cx="162" cy="233" r="5"/><text x="162" y="233" font-size="17">water relations</text></g>
<g id="n-regulated-deficit-irrigation"><circle class="nc" cx="410" cy="228" r="6"/><text x="410" y="224" font-size="18.3">regulated deficit irrigation</text></g>
<g id="n-runoff"><circle class="nr" cx="1190" cy="241" r="6"/><text x="1190" y="241" font-size="17.4">runoff</text></g>
<g id="n-yield-response-factor"><circle class="ng" cx="229" cy="298" r="5"/><text x="228" y="298" font-size="16.9">yield response factor</text></g>
<g id="n-nitrogen"><circle class="no" cx="603" cy="297" r="6"/><text x="603" y="297" font-size="16.9">nitrogen</text></g>
<g id="n-aquacrop"><circle class="np" cx="485" cy="360" r="4"/><text x="485" y="360" font-size="16.7">aquacrop</text></g>
<g id="n-crop-water-stress-index"><circle class="ng" cx="340" cy="371" r="5"/><text x="340" y="371" font-size="17.2">crop water stress index</text></g>
<g id="n-adaptation"><circle class="nr" cx="1348" cy="403" r="6"/><text x="1348" y="403" font-size="17">adaptation</text></g>
<g id="n-modeling"><circle class="no" cx="855" cy="410" r="6"/><text x="855" y="410" font-size="18.5">modeling</text></g>
<g id="n-water-supply"><circle class="nr" cx="1276" cy="459" r="6"/><text x="1276" y="459" font-size="17.2">water supply</text></g>
<g id="n-temperature"><circle class="ny" cx="822" cy="484" r="5"/><text x="822" y="484" font-size="16.9">temperature</text></g>
<g id="n-recharge"><circle class="nr" cx="1348" cy="487" r="5"/><text x="1348" y="487" font-size="16.9">recharge</text></g>
<g id="n-water-reuse"><circle class="nr" cx="1512" cy="486" r="7"/><text x="1512" y="486" font-size="17">water reuse</text></g>
<g id="n-irrigation-management"><circle class="nb" cx="99" cy="498" r="4"/><text x="99" y="498" font-size="17">irrigation management</text></g>
<g id="n-yield-components"><circle class="ny" cx="698" cy="549" r="4"/><text x="698" y="549" font-size="17">yield components</text></g>
<g id="n-water"><circle class="no" cx="959" cy="557" r="6"/><text x="958" y="557" font-size="17.3">water</text></g>
<g id="n-vitis-vinifera"><circle class="nb" cx="150" cy="556" r="7"/><text x="149" y="556" font-size="18.3">vitis vinifera l.</text></g>
<g id="n-treated-wastewater"><circle class="nr" cx="1455" cy="574" r="5"/><text x="1457" y="574" font-size="17">treated wastewater</text></g>
<g id="n-water-saving"><circle class="np" cx="845" cy="575" r="5"/><text x="845" y="575" font-size="17.2">water saving</text></g>
<g id="n-dryland"><circle class="np" cx="780" cy="614" r="6"/><text x="780" y="614" font-size="16.9">dryland</text></g>
<g id="n-agriculture"><circle class="nr" cx="1237" cy="594" r="10"/><text x="1237" y="594" font-size="18.2">agriculture</text></g>
<g id="n-stomatal-conductance"><circle class="nb" cx="260" cy="616" r="9"/><text x="261" y="616" font-size="18.2">stomatal conductance</text></g>
<g id="n-optimization"><circle class="nr" cx="1135" cy="674" r="4"/><text x="1135" y="673" font-size="16.9">optimization</text></g>
<g id="n-soil"><circle class="nr" cx="1288" cy="676" r="7"/><text x="1288" y="676" font-size="17.8">soil</text></g>
<g id="n-wastewater"><circle class="nr" cx="1402" cy="682" r="9"/><text x="1402" y="682" font-size="18.6">wastewater</text></g>
<g id="n-reuse"><circle class="nr" cx="1500" cy="682" r="6"/><text x="1500" y="682" font-size="17.2">reuse</text></g>
<g id="n-growth"><circle class="no" cx="913" cy="690" r="5"/><text x="914" y="690" font-size="17.2">growth</text></g>
<g id="n-food-security"><circle class="np" cx="1028" cy="702" r="5"/><text x="1028" y="702" font-size="17">food security</text></g>
<g id="n-grain-yield"><circle class="ng" cx="357" cy="712" r="5"/><text x="358" y="712" font-size="17">grain yield</text></g>
<g id="n-supplemental-irrigation"><circle class="ng" cx="378" cy="786" r="5"/><text x="379" y="786" font-size="17">supplemental irrigation</text></g>
<g id="n-semi-arid-climate"><circle class="nr" cx="1153" cy="787" r="5"/><text x="1153" y="787" font-size="16.8">semi-arid climate</text></g>
<g id="n-water-use"><circle class="ny" cx="800" cy="803" r="5"/><text x="800" y="803" font-size="17.3">water use</text></g>
<g id="n-water-footprint"><circle class="ny" cx="910" cy="827" r="7"/><text x="911" y="826" font-size="18.6">water footprint</text></g>
<g id="n-salt-stress"><circle class="ny" cx="583" cy="832" r="6"/><text x="586" y="831" font-size="17.2">salt stress</text></g>
<g id="n-nitrogen-use-efficiency"><circle class="ng" cx="412" cy="854" r="5"/><text x="411" y="854" font-size="17">nitrogen use efficiency</text></g>
<g id="n-semi-arid-area"><circle class="ny" cx="679" cy="893" r="7"/><text x="677" y="892" font-size="18.2">semi-arid area</text></g>
<g id="n-rainwater-harvesting"><circle class="nr" cx="1381" cy="300" r="10"/><text x="1381" y="299" font-size="18.5">rainwater harvesting</text></g>
<g id="n-water-quality"><circle class="nr" cx="1463" cy="398" r="10"/><text x="1464" y="398" font-size="18.5">water quality</text></g>
<g id="n-soil-water-content"><circle class="nc" cx="492" cy="266" r="11"/><text x="493" y="265" font-size="18.5">soil water content</text></g>
<g id="n-zea-mays"><circle class="ng" cx="332" cy="452" r="12"/><text x="335" y="449" font-size="19.6">zea mays l.</text></g>
<g id="n-remote-sensing"><circle class="nr" cx="920" cy="277" r="13"/><text x="922" y="277" font-size="20.2">remote sensing</text></g>
<g id="n-salinity"><circle class="nr" cx="1040" cy="289" r="13"/><text x="1040" y="289" font-size="20">salinity</text></g>
<g id="n-soil-moisture"><circle class="nc" cx="840" cy="224" r="13"/><text x="840" y="224" font-size="20.2">soil moisture</text></g>
<g id="n-gis"><circle class="nr" cx="1257" cy="209" r="14"/><text x="1259" y="209" font-size="20.2">geographic information system</text></g>
<g id="n-desalination"><circle class="nr" cx="1393" cy="530" r="11"/><text x="1394" y="530" font-size="20">desalination</text></g>
<g id="n-semi-arid-region"><circle class="nr" cx="1078" cy="330" r="14"/><text x="1074" y="329" font-size="21.5">semi-arid region</text></g>
<g id="n-groundwater"><circle class="nr" cx="1176" cy="369" r="18"/><text x="1176" y="369" font-size="21.7">groundwater</text></g>
<g id="n-triticum-aestivum"><circle class="ng" cx="573" cy="675" r="15"/><text x="574" y="674" font-size="21.3">triticum aestivum l.</text></g>
<g id="n-water-productivity"><circle class="np" cx="599" cy="598" r="17"/><text x="599" y="598" font-size="21.7">water productivity</text></g>
<g id="n-semi-arid"><circle class="nr" cx="999" cy="366" r="20"/><text x="999" y="365" font-size="24.4">semi-arid</text></g>
<g id="n-climate-change"><circle class="nr" cx="1104" cy="416" r="20"/><text x="1104" y="417" font-size="24.6">climate change</text></g>
<g id="n-irrigation"><circle class="nr" cx="1068" cy="540" r="22"/><text x="1068" y="539" font-size="24.7">irrigation</text></g>
<g id="n-evapotranspiration"><circle class="nb" cx="581" cy="402" r="24"/><text x="584" y="402" font-size="26.3">evapotranspiration</text></g>
<g id="n-water-use-efficiency"><circle class="ng" cx="478" cy="527" r="30"/><text x="476" y="527" font-size="27.9">water use efficiency</text></g>
<g id="n-water-scarcity"><circle class="nr" cx="1068" cy="487" r="36"/><text x="1068" y="486" font-size="32.5">water scarcity</text></g>
<g id="n-water-stress"><circle class="ny" cx="617" cy="472" r="43"/><text x="617" y="471" font-size="35.4">water stress</text></g>
</g>
</g>
</svg>
